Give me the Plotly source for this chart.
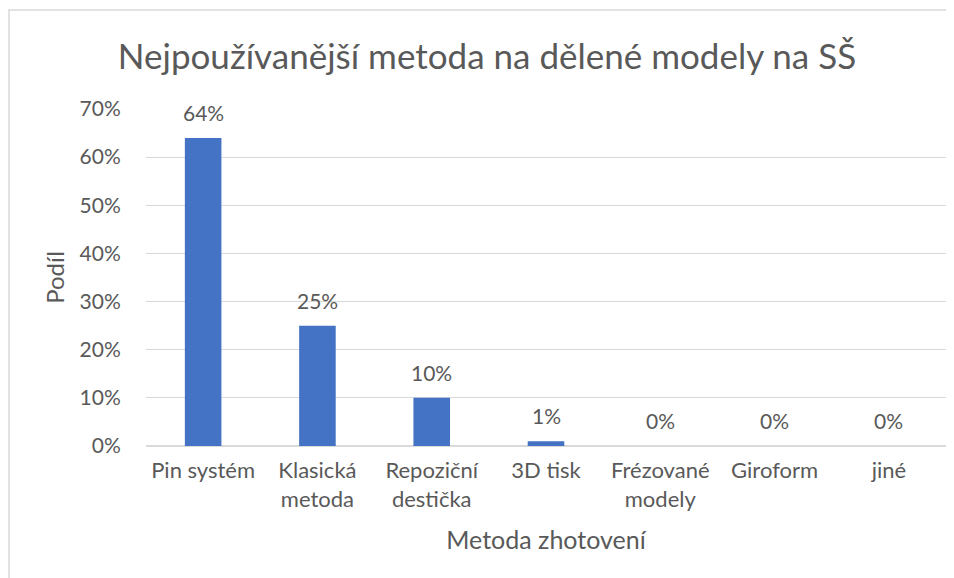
import plotly.graph_objects as go

categories = ["Pin systém", "Klasická<br>metoda", "Repoziční<br>destička", "3D tisk",
              "Frézované<br>modely", "Giroform", "jiné"]
values = [0.64, 0.25, 0.10, 0.01, 0.0, 0.0, 0.0]
labels = ["64%", "25%", "10%", "1%", "0%", "0%", "0%"]
y_ticks = [0, 0.1, 0.2, 0.3, 0.4, 0.5, 0.6, 0.7]
y_tick_text = ["0%", "10%", "20%", "30%", "40%", "50%", "60%", "70%"]

FONT = "Lato"
GREY = "#595959"

fig = go.Figure(go.Bar(
    x=categories, y=values,
    marker=dict(color="#4472c4", line=dict(width=0)),
))

OFF = 8  # page body margin
W, H = 946, 570
L, R, T, B = 146 - OFF, 16 - OFF, 109 - OFF, 140 - OFF
pw, ph = W - L - R, H - T - B

annotations = [dict(x=c, y=v, text=t, showarrow=False, xref="x", yref="y",
                    yanchor="bottom", yshift=11,
                    font=dict(family=FONT, size=21, color=GREY))
               for c, v, t in zip(categories, values, labels)]

fig.update_layout(
    width=W, height=H,
    margin=dict(l=L, r=R, t=T, b=B),
    paper_bgcolor="white", plot_bgcolor="white",
    bargap=0.68,
    showlegend=False,
    annotations=annotations,
    title=dict(text="Nejpoužívanější metoda na dělené modely na SŠ",
               font=dict(family=FONT, size=35, color=GREY),
               x=(487 - OFF) / W, xanchor="center", xref="container",
               y=1 - (57 - OFF) / H, yanchor="middle", yref="container"),
    font=dict(family=FONT, color=GREY),
    xaxis=dict(tickfont=dict(family=FONT, size=22, color=GREY),
               showgrid=False, showline=False,
               ticks="outside", ticklen=5, tickcolor="rgba(0,0,0,0)",
               title=dict(text="Metoda zhotovení", font=dict(family=FONT, size=25, color=GREY),
                          standoff=20)),
    yaxis=dict(range=[0, 0.7], tickvals=y_ticks, ticktext=y_tick_text,
               tickfont=dict(family=FONT, size=21, color=GREY),
               showgrid=True, gridcolor="#d9d9d9", gridwidth=1.3,
               zeroline=True, zerolinecolor="#d9d9d9", zerolinewidth=1.5,
               ticks="outside", ticklen=20, tickcolor="rgba(0,0,0,0)",
               title=dict(text="Podíl", font=dict(family=FONT, size=24, color=GREY),
                          standoff=8)),
    shapes=[dict(type="rect", xref="paper", yref="paper",
                 x0=(1 - L) / pw, x1=(W + 20 - L) / pw,
                 y0=(H - B - (H + 20)) / ph, y1=(H - B - (10 - OFF)) / ph,
                 line=dict(color="#d9d9d9", width=1.5), fillcolor="rgba(0,0,0,0)",
                 layer="below")],
)

fig.write_html("out.html")
